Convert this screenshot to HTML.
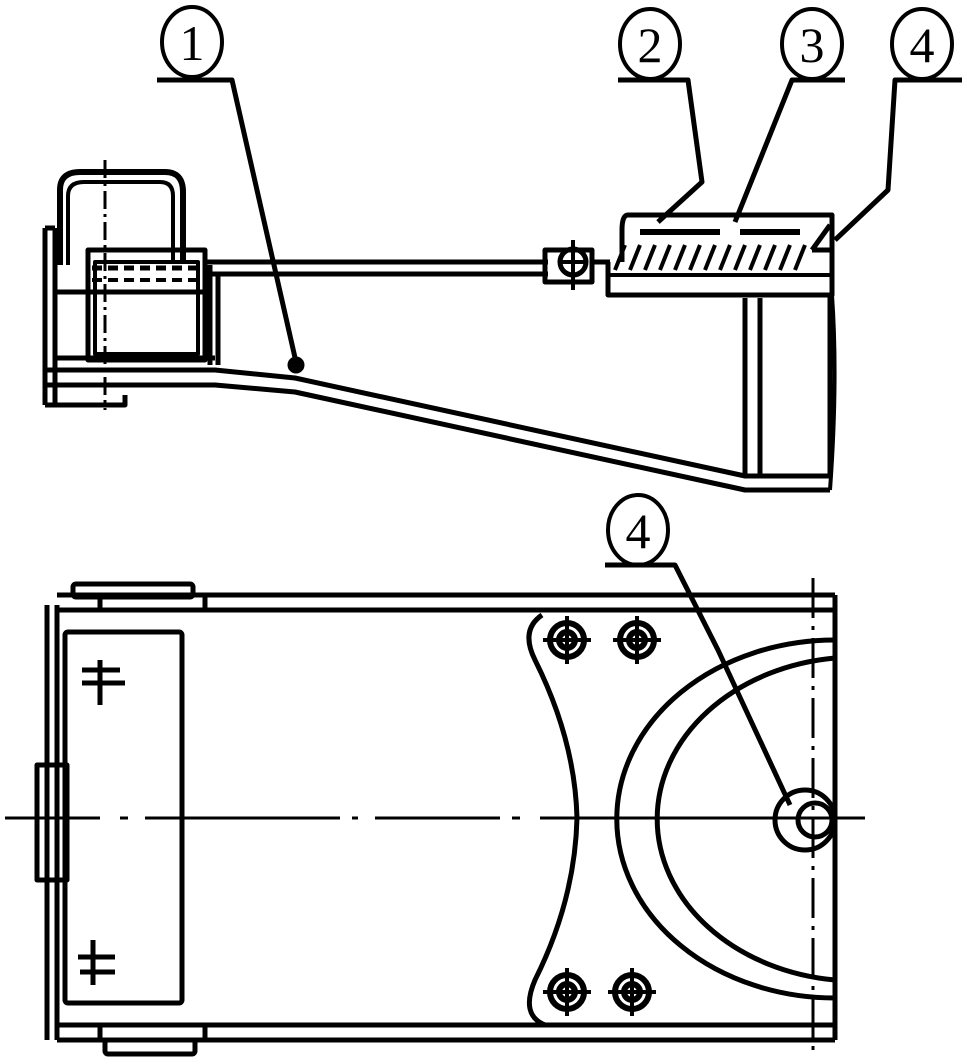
<!DOCTYPE html>
<html><head><meta charset="utf-8"><style>
html,body{margin:0;padding:0;background:#fff;}
svg{display:block;}
text{font-family:"Liberation Serif",serif;font-size:50px;fill:#000;}
</style></head><body>
<svg width="967" height="1064" viewBox="0 0 967 1064" xmlns="http://www.w3.org/2000/svg" fill="none" stroke="#000" stroke-width="5" stroke-linejoin="round">
<!-- Labels -->
<ellipse cx="192" cy="42" rx="30" ry="35" stroke-width="4"/>
<text x="192" y="60" text-anchor="middle" stroke="none">1</text>
<path d="M157 80 H232 L296 362"/>
<ellipse cx="650" cy="44" rx="30" ry="35" stroke-width="4"/>
<text x="650" y="62" text-anchor="middle" stroke="none">2</text>
<path d="M618 80 H688 L702 182 L658 222"/>
<ellipse cx="812" cy="44" rx="30" ry="35" stroke-width="4"/>
<text x="812" y="62" text-anchor="middle" stroke="none">3</text>
<path d="M845 80 H792 L735 222"/>
<ellipse cx="922" cy="44" rx="30" ry="35" stroke-width="4"/>
<text x="922" y="62" text-anchor="middle" stroke="none">4</text>
<path d="M962 80 H895 L888 190 L835 240"/>

<!-- Top view -->
<path d="M45 228 V405 M55 228 V405 M45 228 H55"/>
<path d="M60 265 V190 Q60 172 80 172 H165 Q183 172 183 192 V262" stroke-width="6"/>
<path d="M68 265 V196 Q68 182 84 182 H160 Q173 182 173 196 V262" stroke-width="4"/>
<path d="M105 160 V410" stroke-width="3" stroke-dasharray="18 5 3 5"/>
<rect x="88" y="250" width="117" height="110" stroke-width="5"/>
<rect x="95" y="262" width="103" height="92" stroke-width="4"/>
<path d="M92 268 H200" stroke-width="5" stroke-dasharray="10 6"/>
<path d="M92 280 H200" stroke-width="4" stroke-dasharray="10 6"/>
<path d="M55 292 H205 M55 358 H215 M210 265 V365 M218 275 V365"/>
<path d="M205 262 H548 M205 274 H548"/>
<!-- bolt -->
<path d="M545 250 H592 V282 H545 Z"/>
<circle cx="573" cy="262" r="13"/>
<path d="M573 240 V290 M558 262 H588" stroke-width="4"/>
<!-- housing -->
<path d="M592 262 H610 M608 262 V295 H832 V215 H628 Q622 215 622 230 V262"/>
<path d="M640 232 H720 M740 232 H800" stroke-width="6"/>
<path d="M610 275 H830" stroke-width="4"/>
<path d="M615 270 L625 245 M630 270 L640 245 M645 270 L655 245 M660 270 L670 245 M675 270 L685 245 M690 270 L700 245 M705 270 L715 245 M720 270 L730 245 M735 270 L745 245 M750 270 L760 245 M765 270 L775 245 M780 270 L790 245 M795 270 L805 245" stroke-width="4"/>
<path d="M812 250 L830 225 M812 250 H830"/>
<!-- body -->
<path d="M45 370 H215 L295 378 L745 476 H830 V295"/>
<path d="M45 385 H215 L295 392 L745 490 H830"/>
<path d="M45 405 H125 V395"/>
<path d="M745 298 V476 M760 298 V476"/>
<path d="M832 295 Q838 380 830 490" stroke-width="4"/>
<circle cx="296" cy="365" r="6" fill="#000"/>

<!-- Bottom view -->
<ellipse cx="638" cy="530" rx="30" ry="35" stroke-width="4"/>
<text x="638" y="548" text-anchor="middle" stroke="none">4</text>
<path d="M605 565 H675 L718 650 L790 805"/>
<path d="M47 605 V1040 M57 605 V1040"/>
<path d="M57 595 H835 M57 610 H835 M57 1025 H835 M57 1040 H835"/>
<path d="M835 595 V1040"/>
<rect x="73" y="584" width="120" height="13" rx="3"/>
<rect x="105" y="1040" width="90" height="14" rx="3"/>
<path d="M100 597 V610 M100 1025 V1040 M205 597 V610 M205 1025 V1040"/>
<rect x="65" y="632" width="117" height="371" rx="3"/>
<rect x="37" y="765" width="30" height="115"/>
<path d="M100 660 V705 M82 670 H120 M82 683 H125"/>
<path d="M93 940 V985 M78 957 H115 M80 972 H115"/>
<path d="M5 818 H100 M120 818 H128 M145 818 H340 M352 818 H358 M375 818 H500 M512 818 H520 M540 818 H865" stroke-width="3"/>
<path d="M813 578 V1050" stroke-width="3" stroke-dasharray="40 8 4 8"/>
<!-- concave plate -->
<path d="M542 615 Q520 630 535 660 Q575 740 577 818 Q575 900 535 980 Q520 1015 545 1025"/>
<!-- arcs -->
<path d="M835 640 A217 178 0 0 0 835 998"/>
<path d="M835 658 A200 162 0 0 0 835 980"/>
<!-- bolts -->
<g stroke-width="6">
<circle cx="567" cy="640" r="17"/><circle cx="567" cy="640" r="8"/><path d="M567 616 V664 M543 640 H591" stroke-width="4"/>
<circle cx="637" cy="640" r="17"/><circle cx="637" cy="640" r="8"/><path d="M637 616 V664 M613 640 H661" stroke-width="4"/>
<circle cx="567" cy="992" r="17"/><circle cx="567" cy="992" r="8"/><path d="M567 968 V1016 M543 992 H591" stroke-width="4"/>
<circle cx="632" cy="992" r="17"/><circle cx="632" cy="992" r="8"/><path d="M632 968 V1016 M608 992 H656" stroke-width="4"/>
</g>
<circle cx="805" cy="820" r="30"/>
<circle cx="815" cy="820" r="17"/>
</svg>
</body></html>
